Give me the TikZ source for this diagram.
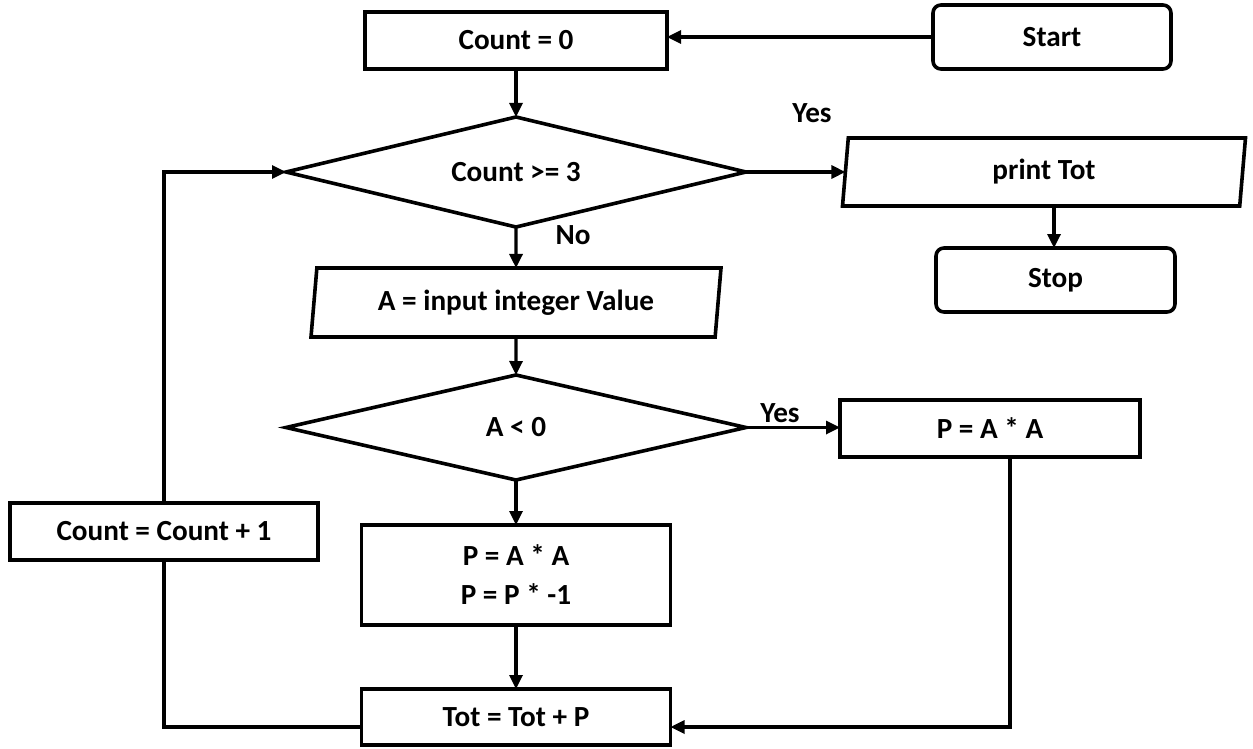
\documentclass[tikz,border=0pt]{standalone}
\usepackage{fontspec}
\setmainfont{Carlito}
\usetikzlibrary{shapes.geometric,arrows.meta,calc}
\begin{document}
\begin{tikzpicture}[x=0.5pt,y=-0.5pt,
  every node/.style={font=\bfseries\fontsize{14.6}{19.5}\selectfont, inner sep=0pt, outer sep=0pt},
  proc/.style={draw, line width=1.8pt, rectangle, align=center},
  term/.style={proc, rounded corners=4pt},
  dec/.style={draw, line width=1.8pt, diamond, aspect=4.2},
  io/.style={draw, line width=1.8pt, trapezium, trapezium left angle=77, trapezium right angle=103, trapezium stretches body},
  arr/.style={line width=1.6pt, -{Triangle[length=7pt,width=6.5pt]}},
  link/.style={line width=1.6pt}
]
\useasboundingbox (0,0) rectangle (1253,749);

% main column
\node[proc, minimum width=151pt, minimum height=28.5pt] (count0) at (516,40.5) {Count = 0};
\node[dec, minimum width=230pt, minimum height=55pt] (d1) at (516,172) {Count >= 3};
\node[io, minimum width=205pt, minimum height=34.5pt] (input) at (516,302.5) {A = input integer Value};
\node[dec, minimum width=230pt, minimum height=52.5pt] (d2) at (516,427.5) {A < 0};
\node[proc, minimum width=154.5pt, minimum height=50pt] (neg) at (516,575) {P = A * A\\P = P * -1};
\node[proc, minimum width=154.5pt, minimum height=28pt] (tot) at (516,717) {Tot = Tot + P};

% right side
\node[term, minimum width=119pt, minimum height=32pt] (start) at (1052,37) {Start};
\node[io, minimum width=201.5pt, minimum height=34pt] (print) at (1044,172) {print Tot};
\node[term, minimum width=119.5pt, minimum height=32pt] (stop) at (1055.5,280) {Stop};
\node[proc, minimum width=150pt, minimum height=28.5pt] (pos) at (990,428.5) {P = A * A};

% loop counter
\node[proc, minimum width=154pt, minimum height=28.5pt] (inc) at (164,531.5) {Count = Count + 1};

% branch labels
\node (yes1) at (812,113) {Yes};
\node (no1) at (573,235) {No};
\node (yes2) at (780,413) {Yes};

% connectors
\draw[arr] (start.west) -- (start.west -| count0.east);
\draw[arr] (count0.south) -- (d1.north);
\draw[arr] (d1.east) -- (print.west);
\draw[arr] ([xshift=5]print.south) -- ([xshift=5]print.south |- stop.north);
\draw[arr] (d1.south) -- (input.north);
\draw[arr] (input.south) -- (d2.north);
\draw[arr] (d2.east) -- (d2.east -| pos.west);
\draw[arr] (d2.south) -- (neg.north);
\draw[arr] (neg.south) -- (tot.north);
\coordinate (posdrop) at ([xshift=10]pos.south);
\draw[arr] (posdrop) |- ([yshift=-5]tot.east);
\draw[link] ([yshift=-5]tot.west) -| (inc.south);
\draw[arr] (inc.north) |- (d1.west);
\end{tikzpicture}
\end{document}
